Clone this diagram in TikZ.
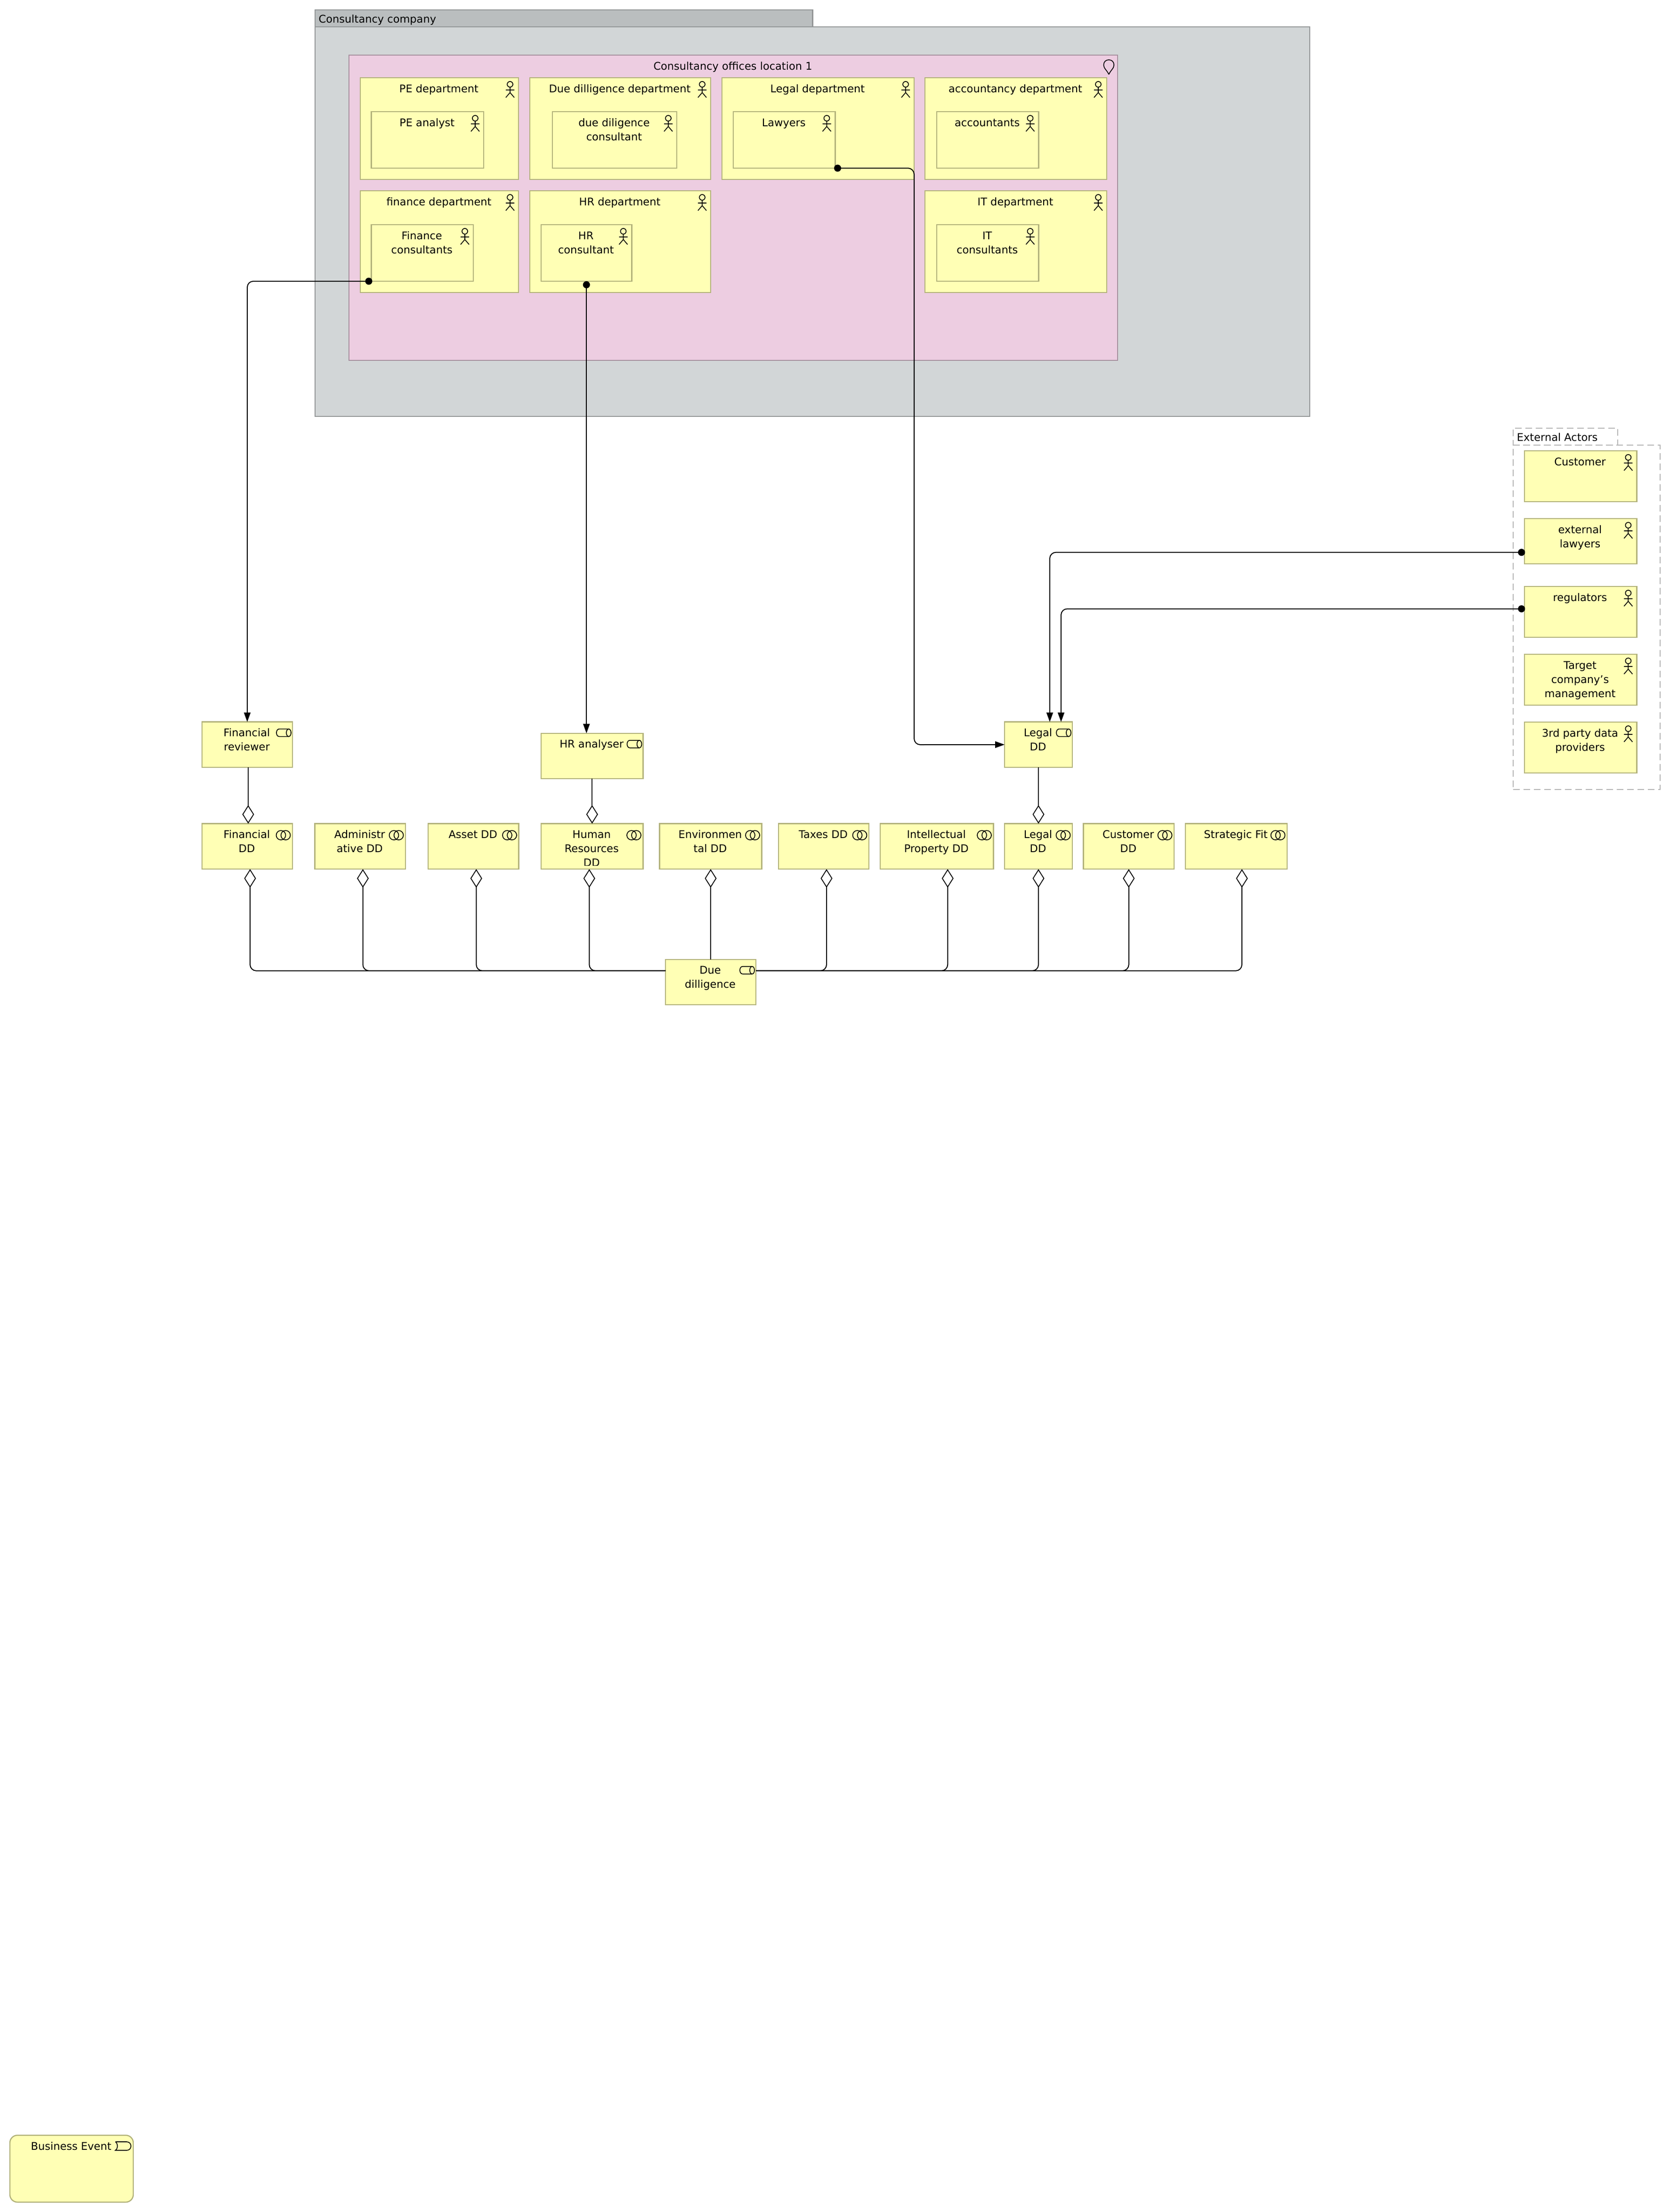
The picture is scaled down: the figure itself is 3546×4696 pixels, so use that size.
\documentclass[tikz,border=0pt]{standalone}
\usepackage{fontspec}
\setmainfont{DejaVu Sans}
\usetikzlibrary{arrows.meta,calc}
\definecolor{yfill}{HTML}{FFFFB5}
\definecolor{yline}{HTML}{B2B27A}
\definecolor{pinkfill}{HTML}{EDCDE1}
\definecolor{pinkline}{HTML}{A6909E}
\definecolor{greyfill}{HTML}{D2D6D7}
\definecolor{greytab}{HTML}{BABEBF}
\definecolor{greyline}{HTML}{939697}
\definecolor{dashline}{HTML}{B4B4B4}
\tikzset{
  elembox/.style={draw=yline,fill=yfill,line width=2.4pt,inner sep=0pt,outer sep=0pt},
  locbox/.style={draw=pinkline,fill=pinkfill},
  evtbox/.style={rounded corners=16pt},
  lbl/.style={anchor=north,inner sep=0pt,align=center,font=\fontsize{22.5}{30}\selectfont,text=black},
  grouplbl/.style={anchor=base west,inner sep=0pt,font=\fontsize{22.5}{30}\selectfont,text=black},
  greybody/.style={draw=greyline,fill=greyfill,line width=2.4pt,inner sep=0pt,outer sep=0pt},
  greyhead/.style={draw=greyline,fill=greytab,line width=2.4pt,inner sep=0pt,outer sep=0pt},
  extgroup/.style={draw=dashline,dash pattern=on 14pt off 8pt,line width=2.4pt,inner sep=0pt,outer sep=0pt},
  icon/.style={draw=black,line width=1.7pt},
  flow/.style={draw=black,line width=2pt,rounded corners=13pt,
    {Circle[length=15pt,width=15pt]}-{Triangle[length=20pt,width=14pt]}},
  aggr/.style={draw=black,line width=2pt,rounded corners=13pt,
    -{Diamond[length=39.5pt,width=25pt,fill=white,line width=1.8pt]}},
}
\newcommand{\icactor}{%
  \draw[icon] (-18,14) circle[radius=6pt];
  \draw[icon] (-18,20) -- (-18,31.5) (-27,26) -- (-9,26) (-27,42) -- (-18,31.5) -- (-9,42);
}
\newcommand{\icservice}{%
  \draw[icon] (-24.5,24.5) circle[radius=10pt];
  \draw[icon] (-14.5,24.5) circle[radius=10pt];
}
\newcommand{\icrole}{%
  \draw[icon] (-8,15) -- (-28,15) .. controls (-36,15) and (-36,31) .. (-28,31) -- (-8,31);
  \draw[icon] (-8,23) ellipse[x radius=5pt,y radius=8pt];
}
\newcommand{\icloc}{%
  \draw[icon] (-18.6,41) .. controls (-22.6,32) and (-29.6,28) .. (-29.6,21)
    .. controls (-29.6,14) and (-24.6,10) .. (-18.6,10)
    .. controls (-12.6,10) and (-7.6,14) .. (-7.6,21)
    .. controls (-7.6,28) and (-14.6,32) .. (-18.6,41);
}
\newcommand{\icevent}{%
  \draw[icon] (-38,14) -- (-14,14) .. controls (-2,14) and (-2,32) .. (-14,32) -- (-38,32)
    .. controls (-32,28) and (-32,18) .. (-38,14);
}
% [style]{name}{x1}{y1}{x2}{y2}{text}{icon}
\newcommand{\elem}[8][]{%
  \node[elembox,#1,minimum width={(#5-#3)*1pt},minimum height={(#6-#4)*1pt}] (#2)
    at ({(#3+#5)/2},{(#4+#6)/2}) {};
  \begin{scope}
    \clip (#3,#4) rectangle (#5,{#6-8});
    \node[lbl] (#2-t) at ({(#3+#5)/2-1},{#4+7}) {\rule{0pt}{24pt}#7};
  \end{scope}
  \begin{scope}[shift={(#5,#4)}]#8\end{scope}
}
\begin{document}
\begin{tikzpicture}[x=1pt,y=-1pt]
\useasboundingbox (0,0) rectangle (3546,4696);
\fill[white] (0,0) rectangle (3546,4696);

% Consultancy company
\node[greybody,minimum width=2112pt,minimum height=827pt] (company) at (1725,470.5) {};
\node[greyhead,minimum width=1056.5pt,minimum height=36pt] (companytab) at (1197.25,39) {};
\node[grouplbl] (companylbl) at (676.5,48) {Consultancy company};

% Location
\elem[locbox]{office}{741}{117}{2373}{765}{Consultancy offices location 1}{\icloc}

% Departments
\elem{pedept}{765}{165}{1101}{381}{PE department}{\icactor}
\elem{dddept}{1125}{165}{1509}{381}{Due dilligence department}{\icactor}
\elem{legaldept}{1533}{165}{1941}{381}{Legal department}{\icactor}
\elem{accdept}{1964}{165}{2350}{381}{accountancy department}{\icactor}
\elem{findept}{765}{405}{1101}{621}{finance department}{\icactor}
\elem{hrdept}{1125}{405}{1509}{621}{HR department}{\icactor}
\elem{itdept}{1964}{405}{2350}{621}{IT department}{\icactor}

\elem{pea}{788.5}{237}{1027}{357}{PE analyst}{\icactor}
\elem{ddc}{1173}{237}{1437}{357}{due diligence\\consultant}{\icactor}
\elem{law}{1557}{237}{1773.5}{357}{Lawyers}{\icactor}
\elem{acc}{1989}{237}{2205.5}{357}{accountants}{\icactor}
\elem{finc}{788.5}{477}{1005}{597}{Finance\\consultants}{\icactor}
\elem{hrc}{1149}{477}{1341.5}{597}{HR\\consultant}{\icactor}
\elem{itc}{1989}{477}{2205.5}{597}{IT\\consultants}{\icactor}

% External actors
\node[extgroup,minimum width=312.3pt,minimum height=731pt] (extbody) at (3368.85,1310.5) {};
\node[extgroup,minimum width=222.3pt,minimum height=36pt] (exttab) at (3323.85,927) {};
\node[grouplbl] (extlbl) at (3220.7,936) {External Actors};
\elem{cust}{3236.7}{957}{3475.3}{1065}{Customer}{\icactor}
\elem{xlaw}{3236.7}{1101}{3475.3}{1197}{external\\lawyers}{\icactor}
\elem{regs}{3236.7}{1245}{3475.3}{1353}{regulators}{\icactor}
\elem{tgt}{3236.7}{1389}{3475.3}{1497}{Target\\company’s\\management}{\icactor}
\elem{third}{3236.7}{1533}{3475.3}{1641}{3rd party data\\providers}{\icactor}

% Roles
\elem{finrev}{429}{1532.6}{621}{1629}{Financial\\reviewer}{\icrole}
\elem{hran}{1149}{1556.7}{1365.5}{1653}{HR analyser}{\icrole}
\elem{legalr}{2133}{1532.6}{2277}{1629}{Legal\\DD}{\icrole}

% Services
\elem{findd}{429}{1748.6}{621}{1845}{Financial\\DD}{\icservice}
\elem{admdd}{668.5}{1748.6}{861}{1845}{Administr\\ative DD}{\icservice}
\elem{assdd}{909}{1748.6}{1101.5}{1845}{Asset DD}{\icservice}
\elem{humdd}{1149}{1748.6}{1365.5}{1845}{Human\\Resources\\DD}{\icservice}
\elem{envdd}{1400.5}{1748.6}{1617.5}{1845}{Environmen\\tal DD}{\icservice}
\elem{taxdd}{1653}{1748.6}{1845}{1845}{Taxes DD}{\icservice}
\elem{ipdd}{1869}{1748.6}{2109.5}{1845}{Intellectual\\Property DD}{\icservice}
\elem{legdd}{2133}{1748.6}{2277}{1845}{Legal\\DD}{\icservice}
\elem{cusdd}{2300.5}{1748.6}{2493}{1845}{Customer\\DD}{\icservice}
\elem{strdd}{2517}{1748.6}{2733}{1845}{Strategic Fit}{\icservice}

\elem{due}{1413}{2036.7}{1605}{2133}{Due\\dilligence}{\icrole}

% Business event
\elem[evtbox]{evt}{21}{4533}{283}{4675}{Business Event}{\icevent}

% Flows
\draw[flow] ([xshift=2pt]finc.south west) -| (finrev.north);
\draw[flow] (hrc.south) -- ([xshift=-12pt]hran.north);
\coordinate (lawbend) at (1941,1581);
\draw[flow] ([xshift=-2.5pt]law.south east) -| (lawbend) -- (legalr.west);
\draw[flow] ([xshift=1.5pt,yshift=-23.6pt]xlaw.west) -| ([xshift=24pt]legalr.north);
\draw[flow] ([xshift=1.5pt,yshift=6.5pt]regs.west) -| ([xshift=48pt]legalr.north);

% Aggregations upper
\draw[aggr] ([xshift=2pt]finrev.south) -- ([xshift=2pt]findd.north);
\draw[aggr] (hran.south) -- (humdd.north);
\draw[aggr] (legalr.south) -- (legdd.north);

% Aggregations lower
\draw[aggr] ([yshift=24pt]due.west) -| ([xshift=6pt]findd.south);
\draw[aggr] ([yshift=24pt]due.west) -| ([xshift=5.75pt]admdd.south);
\draw[aggr] ([yshift=24pt]due.west) -| ([xshift=6pt]assdd.south);
\draw[aggr] ([yshift=24pt]due.west) -| ([xshift=-6pt]humdd.south);
\draw[aggr] (due.north) -- (envdd.south);
\draw[aggr] ([yshift=24pt]due.east) -| ([xshift=6pt]taxdd.south);
\draw[aggr] ([yshift=24pt]due.east) -| ([xshift=23pt]ipdd.south);
\draw[aggr] ([yshift=24pt]due.east) -| (legdd.south);
\draw[aggr] ([yshift=24pt]due.east) -| (cusdd.south);
\draw[aggr] ([yshift=24pt]due.east) -| ([xshift=12pt]strdd.south);
\end{tikzpicture}
\end{document}
